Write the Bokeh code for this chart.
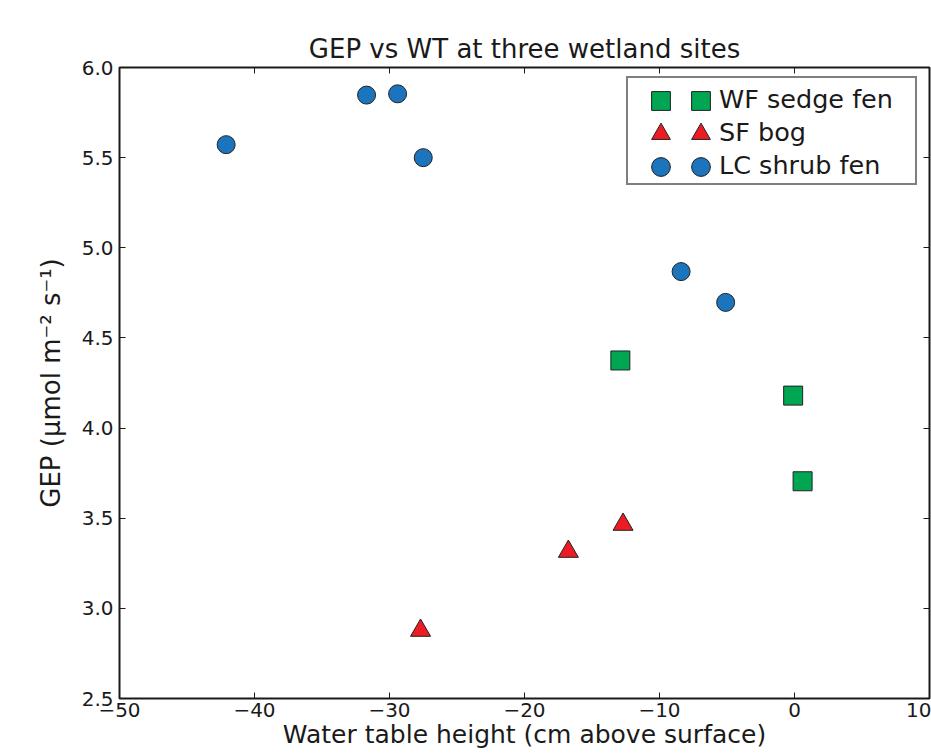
from bokeh.plotting import figure
from bokeh.models import (Range1d, LinearAxis, FixedTicker, Legend, LegendItem,
                          CustomJSTickFormatter)
from bokeh.embed import file_html
from bokeh.resources import INLINE

# ---- data ----
wf_x = [-12.9, -0.1, 0.6]
wf_y = [4.375, 4.18, 3.705]
sf_x = [-27.7, -16.75, -12.7]
sf_y = [2.877, 3.315, 3.465]
lc_x = [-42.1, -31.7, -29.4, -27.5, -8.4, -5.1]
lc_y = [5.572, 5.847, 5.854, 5.50, 4.868, 4.697]

series_names = ["WF sedge fen", "SF bog", "LC shrub fen"]

x_ticks = [-50, -40, -30, -20, -10, 0, 10]
x_tick_labels = ["\u221250", "\u221240", "\u221230", "\u221220", "\u221210", "0", "10"]
y_ticks = [2.5, 3.0, 3.5, 4.0, 4.5, 5.0, 5.5, 6.0]
y_tick_labels = ["2.5", "3.0", "3.5", "4.0", "4.5", "5.0", "5.5", "6.0"]

title_text = "GEP vs WT at three wetland sites"
x_label = "Water table height (cm above surface)"
y_label = "GEP (\u03bcmol m\u207b\u00b2 s\u207b\u00b9)"

FONT = "DejaVu Sans"
TXT = "#1a1a1a"
GREEN = "#00a651"
RED = "#ed1c24"
BLUE = "#1c75bc"
EDGE = "#222222"

W, H = 931, 754
BL, BR, BT, BB = 119, 2, 67, 56      # borders around the plot frame
FRAME_H = H - BT - BB

p = figure(width=W, height=H, output_backend="svg", toolbar_location=None,
           x_range=Range1d(-50, 10), y_range=Range1d(2.5, 6.0),
           min_border_left=BL, min_border_right=BR,
           min_border_top=BT, min_border_bottom=BB,
           title=title_text)

p.title.text_font = FONT
p.title.text_font_size = "26px"
p.title.text_font_style = "normal"
p.title.text_color = TXT
p.title.align = "center"
p.title.standoff = 8

p.grid.visible = False
p.outline_line_color = TXT
p.outline_line_width = 2
p.background_fill_color = "white"
p.border_fill_color = "white"

# bottom axis
xa = p.xaxis[0]
xa.ticker = FixedTicker(ticks=x_ticks)
xa.major_label_overrides = {t: l for t, l in zip(x_ticks, x_tick_labels)}
xa.major_label_text_font = FONT
xa.major_label_text_font_size = "20px"
xa.major_label_text_color = TXT
xa.major_label_standoff = 4
xa.major_tick_in = 6
xa.major_tick_out = 0
xa.major_tick_line_color = TXT
xa.minor_tick_line_color = None
xa.axis_line_color = None
xa.axis_label = x_label
xa.axis_label_text_font = FONT
xa.axis_label_text_font_size = "25px"
xa.axis_label_text_font_style = "normal"
xa.axis_label_text_color = TXT
xa.axis_label_standoff = 0

# left axis
ya = p.yaxis[0]
ya.ticker = FixedTicker(ticks=y_ticks)
ya.major_label_overrides = {t: l for t, l in zip(y_ticks, y_tick_labels)}
ya.major_label_text_font = FONT
ya.major_label_text_font_size = "20px"
ya.major_label_text_color = TXT
ya.major_label_standoff = 6
ya.major_tick_in = 6
ya.major_tick_out = 0
ya.major_tick_line_color = TXT
ya.minor_tick_line_color = None
ya.axis_line_color = None
ya.axis_label = y_label
ya.axis_label_text_font = FONT
ya.axis_label_text_font_size = "26px"
ya.axis_label_text_font_style = "normal"
ya.axis_label_text_color = TXT
ya.axis_label_standoff = 13

empty_fmt = CustomJSTickFormatter(code="return ''")
top_axis = LinearAxis(ticker=FixedTicker(ticks=x_ticks), formatter=empty_fmt,
                      major_label_standoff=0, major_tick_in=6, major_tick_out=0,
                      major_tick_line_color=TXT, minor_tick_line_color=None,
                      axis_line_color=None)
right_axis = LinearAxis(ticker=FixedTicker(ticks=y_ticks), formatter=empty_fmt,
                        major_label_standoff=0, major_tick_in=6, major_tick_out=0,
                        major_tick_line_color=TXT, minor_tick_line_color=None,
                        axis_line_color=None)
p.add_layout(top_axis, "above")
p.add_layout(right_axis, "right")

# data marks
r_wf = p.scatter(wf_x, wf_y, marker="square", size=19, fill_color=GREEN,
                 line_color=EDGE, line_width=1)
r_sf = p.scatter(sf_x, sf_y, marker="triangle", size=20, fill_color=RED,
                 line_color=EDGE, line_width=1)
r_lc = p.scatter(lc_x, lc_y, marker="circle", size=18, fill_color=BLUE,
                 line_color=EDGE, line_width=1)
renderers = [r_wf, r_sf, r_lc]

# ---- legend (matplotlib style: two markers per entry) ----
# legend box geometry, in pixels relative to the frame's left / top edges
LEG_LEFT, LEG_TOP, LEG_W, LEG_H = 507, 13, 287, 105
ROW_H, PAD_TOP = 33, 4
MARK_COLS = [34, 74]          # marker centres from the box's left edge
TEXT_X = 91                   # label start from the box's left edge
GLYPH = 47                    # legend marker size = 0.4 * GLYPH

r_dummy = p.scatter(x=[], y=[], marker="square", size=1, fill_alpha=0, line_alpha=0)
label_w = 178
leg_box = Legend(items=[LegendItem(label=n, renderers=[r_dummy]) for n in series_names],
                 location=(LEG_LEFT, FRAME_H - LEG_TOP - LEG_H),
                 padding=dict(left=TEXT_X - 1, right=LEG_W - TEXT_X - label_w,
                              top=PAD_TOP, bottom=LEG_H - PAD_TOP - 3 * ROW_H),
                 spacing=0, margin=0,
                 glyph_width=1, glyph_height=ROW_H, label_height=ROW_H,
                 label_width=label_w, label_standoff=0,
                 border_line_color="black", border_line_width=2,
                 background_fill_color="white", background_fill_alpha=1.0,
                 label_text_font=FONT, label_text_font_size="25.5px",
                 label_text_color=TXT)
p.add_layout(leg_box)

for i, r in enumerate(renderers):
    cy = LEG_TOP + PAD_TOP + ROW_H / 2 + i * ROW_H      # row centre from frame top
    for cx in MARK_COLS:
        lg = Legend(items=[LegendItem(label=" ", renderers=[r])],
                    location=(int(round(LEG_LEFT + cx - GLYPH / 2)),
                              int(round(FRAME_H - cy - GLYPH / 2))),
                    padding=0, spacing=0, margin=0,
                    glyph_width=GLYPH, glyph_height=GLYPH, label_height=GLYPH,
                    label_width=0, label_standoff=0,
                    border_line_alpha=0, background_fill_alpha=0,
                    label_text_font_size="1px")
        p.add_layout(lg)

open("out.html", "w").write(file_html(p, INLINE))
